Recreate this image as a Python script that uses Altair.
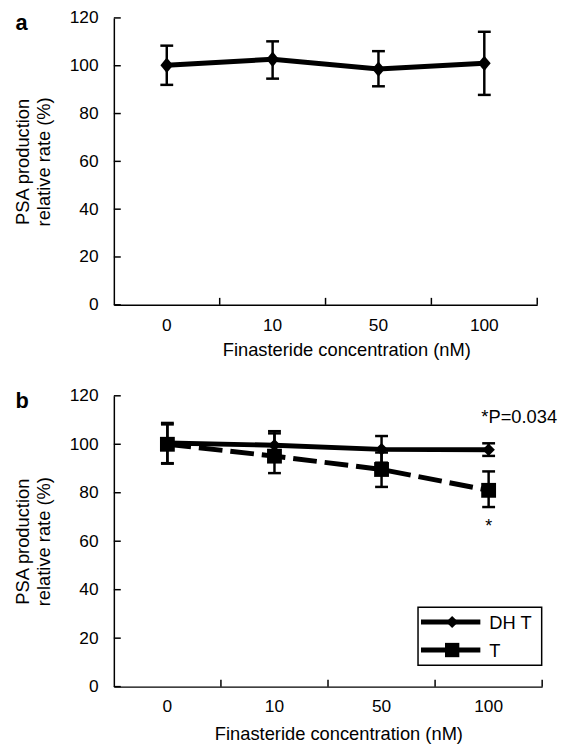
import altair as alt
import pandas as pd

# ---------------- data ----------------
conc = ["0", "10", "50", "100"]

# panel a
a_mean = [100.2, 102.7, 98.6, 101.0]
a_upper = [108.4, 110.2, 106.1, 114.2]
a_lower = [92.0, 94.6, 91.4, 87.8]

# panel b
dht_mean = [100.5, 99.6, 97.9, 97.7]
dht_upper = [108.8, 105.4, 103.4, 100.4]
dht_lower = [92.2, 93.8, 92.4, 95.2]

t_mean = [100.0, 95.1, 89.6, 81.0]
t_upper = [108.2, 104.5, 96.6, 88.8]
t_lower = [92.0, 88.1, 82.4, 74.1]

y_ticks = [0, 20, 40, 60, 80, 100, 120]
panel_labels = ["a", "b"]
legend_labels = ["DH T", "T"]
note_text = ["*P=0.034"]
star_text = ["*"]
star_conc = ["100"]
star_y = [66.0]

x_title = "Finasteride concentration (nM)"
y_title = ["PSA production", "relative rate (%)"]

FONT = "Liberation Sans"
DIAMOND_TALL = "M0,-1L0.83,0L0,1L-0.83,0Z"


def make_panel(series, width, height, label, lab_pad, title_pad, title_x, extra=None):
    xscale = alt.Scale(type="band", paddingInner=0, paddingOuter=0)
    xaxis = alt.Axis(title=x_title, labelAngle=0, ticks=False, tickSize=0,
                     labelPadding=lab_pad, titlePadding=title_pad, titleX=title_x,
                     domainColor="black", domainWidth=1.5, grid=False)
    yscale = alt.Scale(domain=[0, 120], nice=False, zero=True)
    yaxis = alt.Axis(title=y_title, values=y_ticks, ticks=False, tickSize=0,
                     labelPadding=16, titlePadding=16, grid=False,
                     domainColor="black", domainWidth=1.5)

    def X(field="conc", **kw):
        return alt.X(f"{field}:N", sort=conc, scale=xscale, axis=xaxis, **kw)

    def Y(field):
        return alt.Y(f"{field}:Q", scale=yscale, axis=yaxis)

    layers = []
    for s in series:
        df = pd.DataFrame({"conc": conc, "mean": s["mean"],
                           "upper": s["upper"], "lower": s["lower"]})
        base = alt.Chart(df)
        layers.append(base.mark_rule(color="black", strokeWidth=2.5).encode(
            x=X(), y=Y("lower"), y2="upper:Q"))
        layers.append(base.mark_tick(color="black", size=13, thickness=2.5, opacity=1).encode(
            x=X(), y=Y("upper")))
        layers.append(base.mark_tick(color="black", size=13, thickness=2.5, opacity=1).encode(
            x=X(), y=Y("lower")))
    for s in series:
        df = pd.DataFrame({"conc": conc, "mean": s["mean"]})
        base = alt.Chart(df)
        line_kw = dict(color="black", strokeWidth=5)
        if s.get("dash"):
            line_kw["strokeDash"] = s["dash"]
        layers.append(base.mark_line(**line_kw).encode(x=X(), y=Y("mean")))
    for s in series:
        df = pd.DataFrame({"conc": conc, "mean": s["mean"]})
        layers.append(alt.Chart(df).mark_point(
            filled=True, color="black", opacity=1, shape=s["shape"], size=s["size"]
        ).encode(x=X(), y=Y("mean")))

    # inward axis ticks
    layers.append(alt.Chart(pd.DataFrame({"conc": conc})).mark_rule(
        color="black", strokeWidth=1.5).encode(
        x=X(bandPosition=1), y=alt.value(height), y2=alt.value(height - 7)))
    layers.append(alt.Chart(pd.DataFrame({"v": y_ticks})).mark_rule(
        color="black", strokeWidth=1.5).encode(
        y=Y("v"), x=alt.value(0), x2=alt.value(7)))

    # panel letter
    layers.append(alt.Chart(pd.DataFrame({"t": [label]})).mark_text(
        font=FONT, fontSize=22, fontWeight="bold", align="left",
        baseline="alphabetic", color="black").encode(
        x=alt.value(-99.5), y=alt.value(12.5), text="t:N"))

    if extra:
        layers.extend(extra(X, Y))

    return alt.layer(*layers).properties(width=width, height=height)


# ---------------- panel a ----------------
panel_a = make_panel(
    [dict(mean=a_mean, upper=a_upper, lower=a_lower, shape=DIAMOND_TALL, size=240)],
    428, 290, panel_labels[0], 12, 7, 235)


# ---------------- panel b ----------------
def extras_b(X, Y):
    out = []
    # significance star under T at 100 nM
    out.append(alt.Chart(pd.DataFrame({"conc": star_conc, "y": star_y, "t": star_text}))
               .mark_text(font=FONT, fontSize=18, color="black", baseline="middle")
               .encode(x=X(), y=Y("y"), text="t:N"))
    # P-value note
    out.append(alt.Chart(pd.DataFrame({"t": note_text})).mark_text(
        font=FONT, fontSize=18.5, color="black", align="left", baseline="alphabetic")
        .encode(x=alt.value(371.5), y=alt.value(28), text="t:N"))
    # legend box
    out.append(alt.Chart(pd.DataFrame({"t": [0]})).mark_rect(
        fill="white", stroke="black", strokeWidth=1.5).encode(
        x=alt.value(307.5), x2=alt.value(432.5), y=alt.value(213.7), y2=alt.value(272.4)))
    rows = [(legend_labels[0], "diamond", 150, 228.7),
            (legend_labels[1], "square", 210, 257.0)]
    for lab, shp, sz, yy in rows:
        d = pd.DataFrame({"t": [lab]})
        out.append(alt.Chart(d).mark_rule(color="black", strokeWidth=5).encode(
            x=alt.value(310.5), x2=alt.value(370.5), y=alt.value(yy)))
        out.append(alt.Chart(d).mark_point(filled=True, color="black", opacity=1,
                                           shape=shp, size=sz).encode(
            x=alt.value(342), y=alt.value(yy)))
        out.append(alt.Chart(d).mark_text(font=FONT, fontSize=18.5, color="black",
                                          align="left", baseline="middle").encode(
            x=alt.value(379.5), y=alt.value(yy + 1), text="t:N"))
    return out


panel_b = make_panel(
    [dict(mean=dht_mean, upper=dht_upper, lower=dht_lower, shape="diamond", size=160),
     dict(mean=t_mean, upper=t_upper, lower=t_lower, shape="square", size=225, dash=[24, 8])],
    433, 294, panel_labels[1], 11, 10, 227, extra=extras_b)

chart = alt.vconcat(panel_a, panel_b, spacing=28).properties(
    padding={"left": 5, "top": -3, "right": 0, "bottom": 0}
).configure_view(stroke=None).configure_axis(
    labelFont=FONT, titleFont=FONT, labelFontSize=17.5, titleFontSize=18.5,
    labelColor="black", titleColor="black", titleFontWeight="normal",
    titleLineHeight=21,
)

chart.save("out.html", embed_options={"renderer": "svg", "actions": False})
